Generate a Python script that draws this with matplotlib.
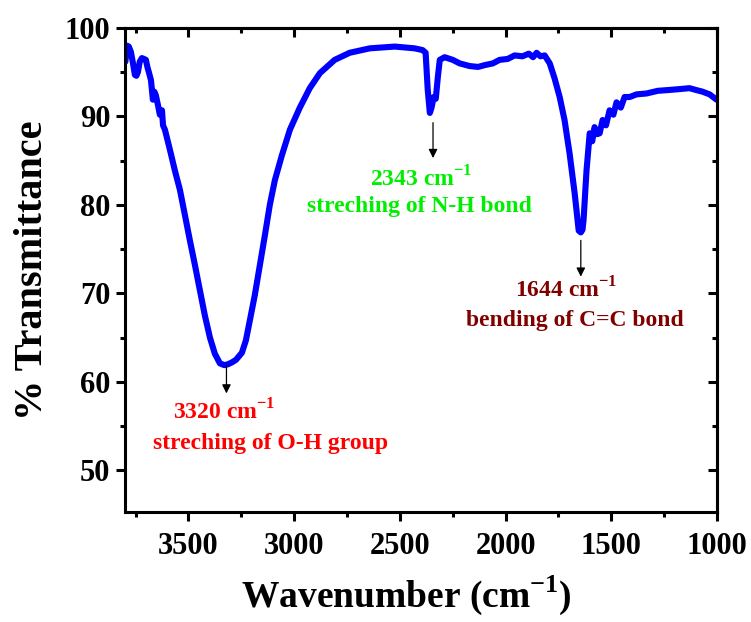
import matplotlib
matplotlib.use("Agg")
import matplotlib.pyplot as plt
from matplotlib.ticker import MultipleLocator

plt.rcParams["font.family"] = ["Liberation Serif", "DejaVu Serif"]
plt.rcParams["font.weight"] = "bold"

# FTIR spectrum: wavenumber (cm^-1) vs % transmittance
wavenumber = [3798, 3790, 3782, 3772, 3762, 3753, 3746, 3739, 3730, 3720, 3710, 3701,
              3694, 3687, 3677, 3668, 3661, 3654, 3644, 3635, 3625, 3620, 3611,
              3587, 3564, 3540, 3516, 3493, 3469, 3446, 3422, 3398, 3375, 3351,
              3330, 3313, 3295, 3275, 3247, 3228, 3209, 3186, 3162, 3138, 3115,
              3091, 3058, 3020, 2973, 2926, 2878, 2808, 2737, 2642, 2524, 2430,
              2392, 2378, 2368, 2358, 2350, 2340, 2330, 2320, 2311, 2288, 2250,
              2217, 2170, 2130, 2099, 2060, 2028, 1990, 1957, 1920, 1890, 1870,
              1853, 1835, 1815, 1791, 1768, 1744, 1721, 1697, 1673, 1654, 1644,
              1636, 1631, 1617, 1602, 1590, 1579, 1567, 1555, 1541, 1525, 1508,
              1490, 1475, 1455, 1437, 1413, 1380, 1333, 1280, 1224, 1175, 1130,
              1100, 1068, 1035, 1002]
transmittance = [96.2, 98.0, 97.9, 97.3, 96.0, 94.7, 94.6, 95.0, 96.2, 96.6, 96.5, 96.4,
                 95.6, 95.0, 94.1, 91.9, 92.8, 92.4, 91.3, 90.2, 90.7, 89.0, 88.5,
                 86.2, 83.9, 81.7, 78.8, 76.0, 73.2, 70.4, 67.5, 65.0, 63.2, 62.1,
                 61.9, 62.0, 62.2, 62.5, 63.3, 64.7, 67.0, 69.8, 73.2, 76.6, 80.0,
                 82.8, 85.6, 88.5, 91.0, 93.2, 94.9, 96.4, 97.2, 97.7, 97.9, 97.7,
                 97.5, 97.2, 93.0, 90.4, 91.0, 92.2, 92.0, 94.5, 96.4, 96.7, 96.4,
                 96.0, 95.7, 95.6, 95.8, 96.0, 96.4, 96.5, 96.9, 96.8, 97.1, 96.7,
                 97.2, 96.8, 96.9, 96.0, 94.3, 92.2, 89.6, 85.8, 81.3, 77.1, 76.9,
                 77.2, 78.3, 83.9, 88.1, 87.2, 88.8, 88.0, 88.1, 89.6, 89.0, 90.7,
                 90.2, 91.6, 91.0, 92.2, 92.2, 92.5, 92.6, 92.9, 93.0, 93.1, 93.2,
                 93.0, 92.8, 92.5, 91.9]

# Peak annotations
peak_positions = [3320, 2343, 1644]
peak_labels = ["3320 cm$^{\\mathregular{-1}}$", "2343 cm$^{\\mathregular{-1}}$",
               "1644 cm$^{\\mathregular{-1}}$"]
peak_notes = ["streching of O-H group", "streching of N-H bond", "bending of C=C bond"]
peak_colors = ["#ff0000", "#00ee00", "#800000"]
arrow_start = [61.9, 89.3, 76.0]
arrow_end = [58.7, 85.3, 71.9]
label_xy = [(3332, 56.6), (2401, 83.0), (1711, 70.4)]
note_xy = [(3110, 53.1), (2406, 79.8), (1673, 67.0)]

fig = plt.figure(figsize=(7.51, 6.22), dpi=100)
ax = fig.add_axes([0.1664, 0.1768, 0.7883, 0.7782])

ax.plot(wavenumber, transmittance, color="#0000ff", lw=4.4,
        solid_joinstyle="round", solid_capstyle="round")

for x, y0, y1, lab, note, col, lxy, nxy in zip(peak_positions, arrow_start, arrow_end,
                                                peak_labels, peak_notes, peak_colors,
                                                label_xy, note_xy):
    ax.annotate("", xy=(x, y1), xytext=(x, y0),
                arrowprops=dict(arrowstyle="-|>", color="black", lw=0.9,
                                mutation_scale=13, shrinkA=0, shrinkB=0))
    ax.text(lxy[0], lxy[1], lab, color=col, fontsize=17, fontweight="bold",
            ha="center", va="center")
    ax.text(nxy[0], nxy[1], note, color=col, fontsize=17, fontweight="bold",
            ha="center", va="center")

ax.set_xlim(3800, 1000)
ax.set_ylim(45.3, 100)
ax.xaxis.set_major_locator(MultipleLocator(500))
ax.xaxis.set_minor_locator(MultipleLocator(250))
ax.yaxis.set_major_locator(MultipleLocator(10))
ax.yaxis.set_minor_locator(MultipleLocator(5))
ax.set_yticks([50, 60, 70, 80, 90, 100])

for s in ax.spines.values():
    s.set_linewidth(2.2)

ax.tick_params(which="both", width=2.2, labelsize=22)
ax.tick_params(which="major", length=6.5)
ax.tick_params(which="minor", length=3.5)
ax.tick_params(axis="x", which="both", direction="out", top=False, pad=8)
ax.tick_params(axis="y", which="both", direction="out", right=False, pad=4)

# inward ticks on the top and right edges
secx = ax.secondary_xaxis("top")
secx.xaxis.set_major_locator(MultipleLocator(500))
secx.xaxis.set_minor_locator(MultipleLocator(250))
secx.tick_params(which="both", direction="in", width=2.2, labeltop=False)
secx.tick_params(which="major", length=6.5)
secx.tick_params(which="minor", length=3.5)
secx.spines["top"].set_linewidth(2.2)
secy = ax.secondary_yaxis("right")
secy.yaxis.set_major_locator(MultipleLocator(10))
secy.yaxis.set_minor_locator(MultipleLocator(5))
secy.tick_params(which="both", direction="in", width=2.2, labelright=False)
secy.tick_params(which="major", length=6.5)
secy.tick_params(which="minor", length=3.5)
secy.spines["right"].set_linewidth(2.2)

for lbl in ax.get_xticklabels() + ax.get_yticklabels():
    lbl.set_fontweight("bold")

ax.set_xlabel("Wavenumber (cm$^{\\mathregular{-1}}$)", fontsize=27, fontweight="bold")
ax.xaxis.set_label_coords(0.475, -0.128)
ax.set_ylabel("% Transmittance", fontsize=29, fontweight="bold", labelpad=10)

fig.savefig("out.png", dpi=100)
